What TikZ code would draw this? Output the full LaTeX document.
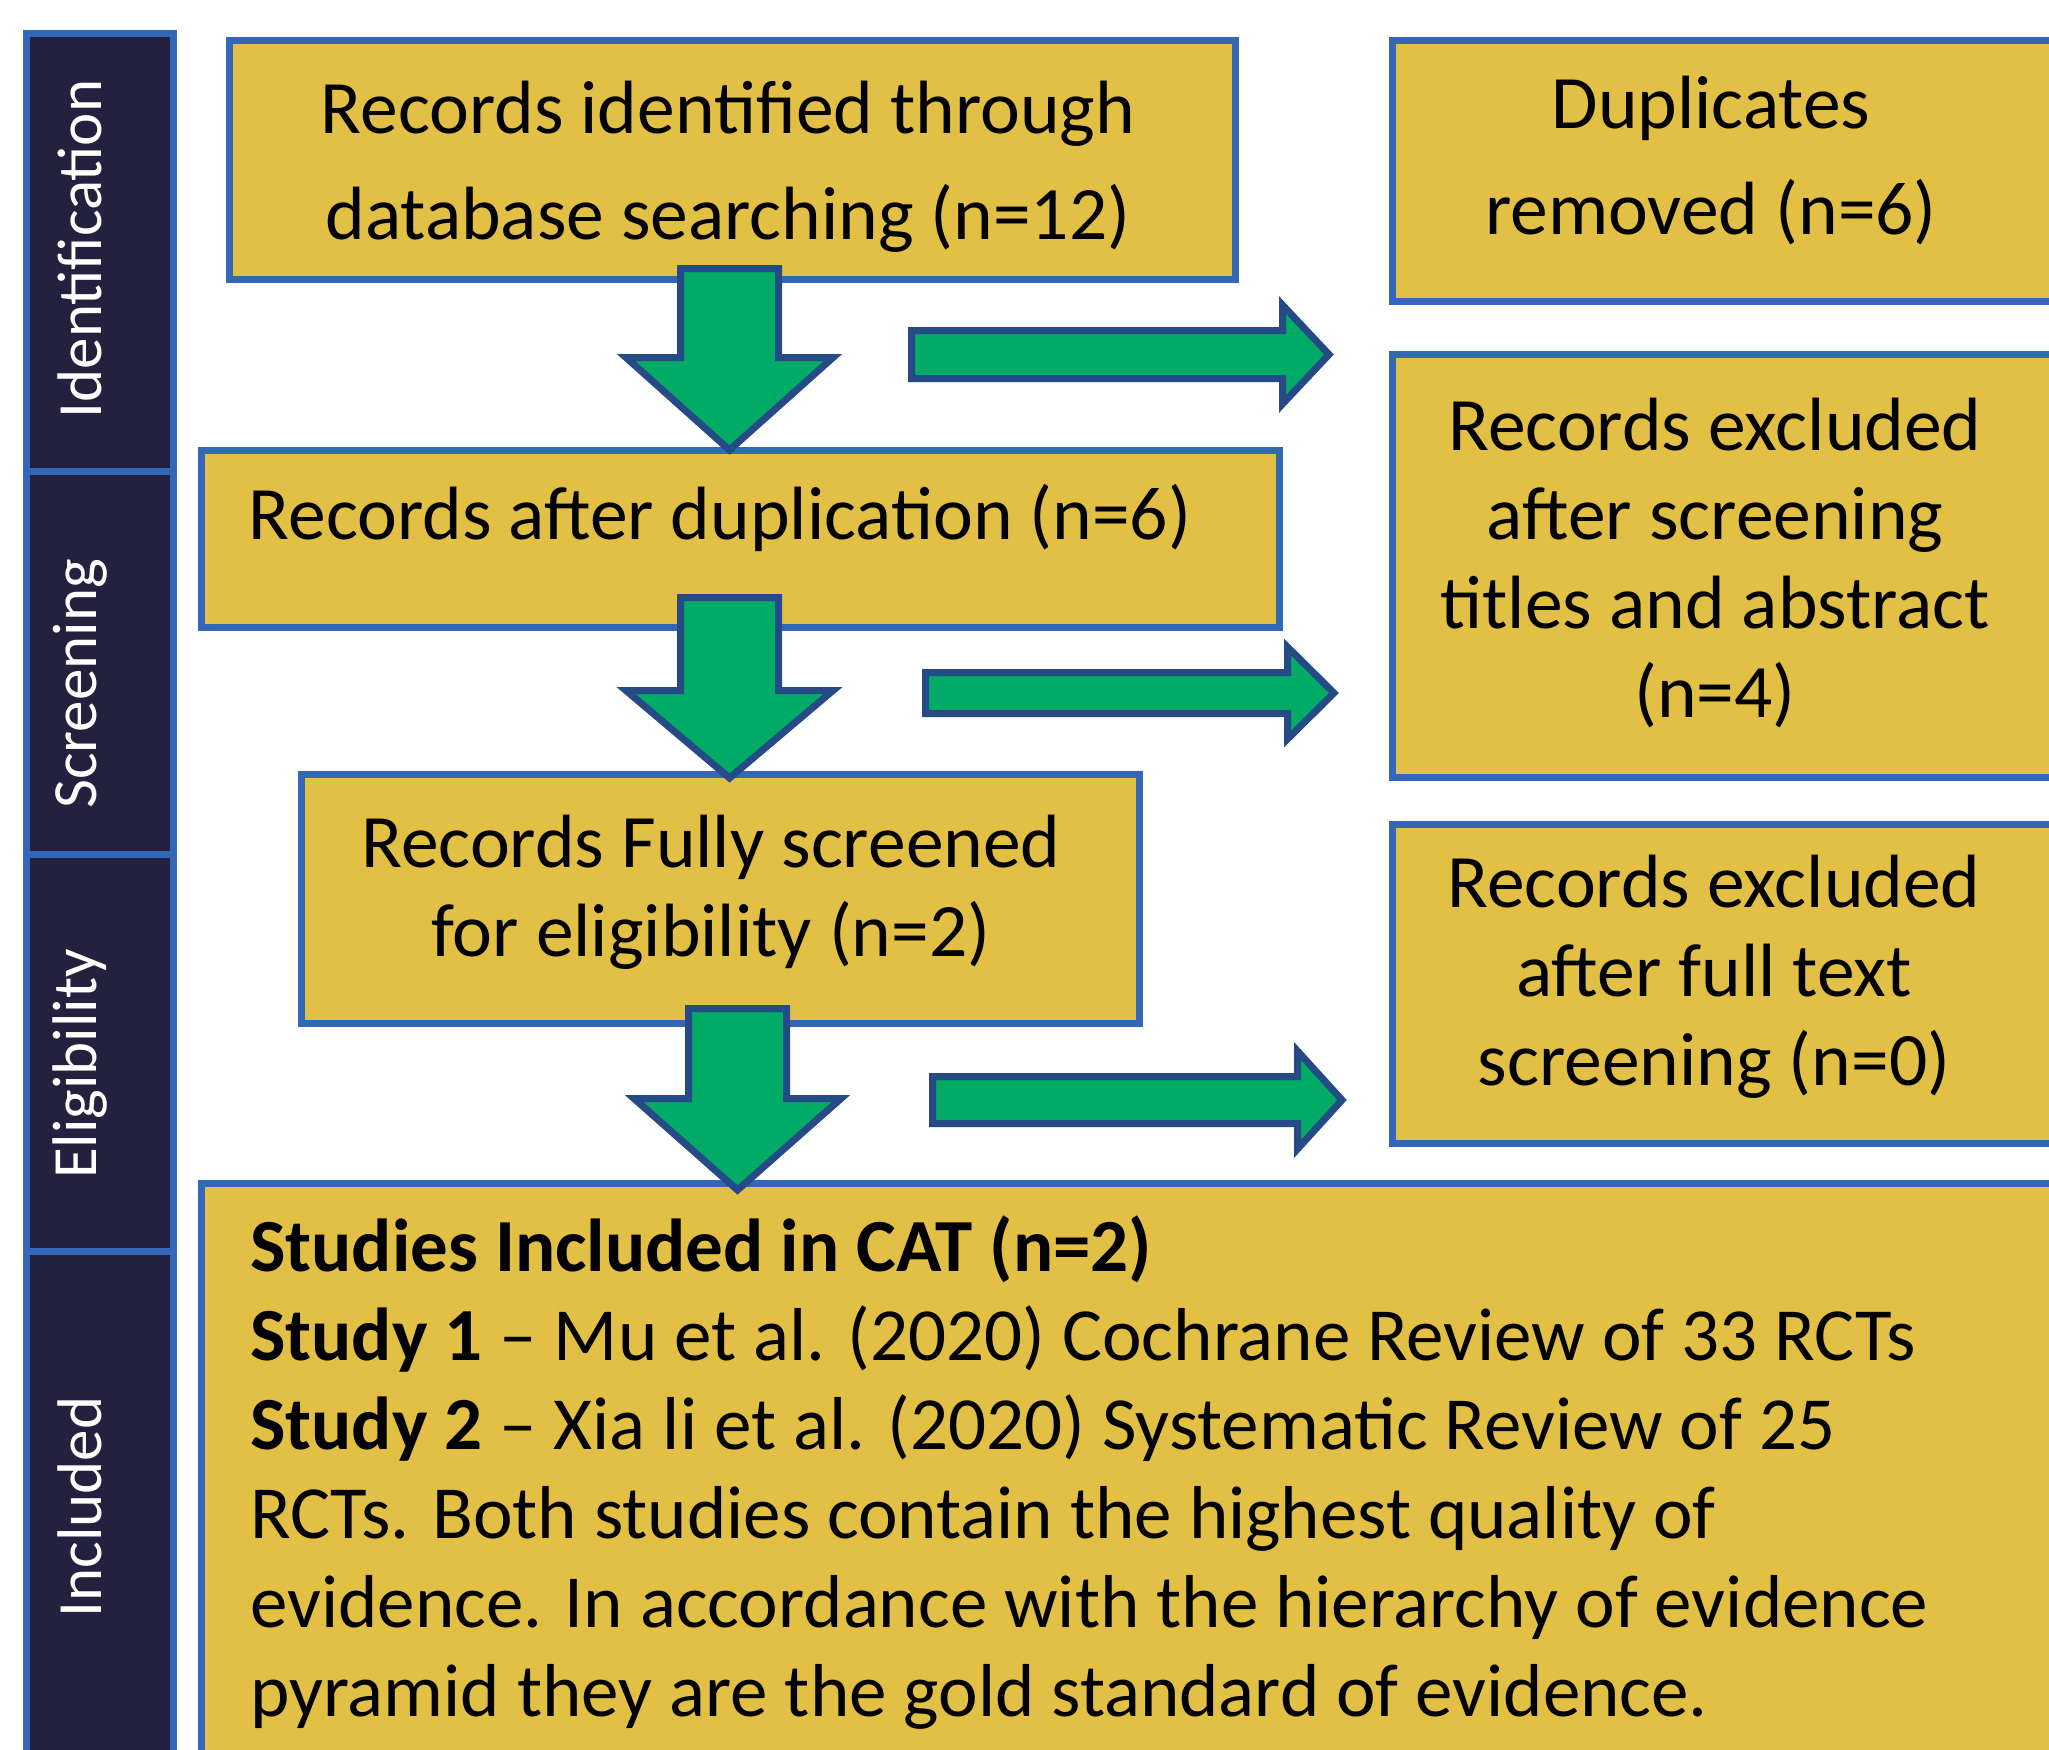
\documentclass[tikz,border=0pt]{standalone}
\usepackage{fontspec}
\setmainfont{Carlito}
\definecolor{boxfill}{HTML}{E2BF45}
\definecolor{boxline}{HTML}{3368B9}
\definecolor{sidefill}{HTML}{24213F}
\definecolor{arrfill}{HTML}{00AB67}
\definecolor{arrline}{HTML}{264A85}
\begin{document}
\begin{tikzpicture}[x=1pt,y=-1pt,
  box/.style={draw=boxline, fill=boxfill, line width=7pt, rectangle, inner sep=0pt},
  side/.style={draw=boxline, fill=sidefill, line width=7pt, rectangle, inner sep=0pt},
  sidelabel/.style={text=white, rotate=90, font=\fontsize{63}{70}\selectfont, inner sep=0pt},
  wide/.style={font=\fontsize{75.5}{106}\selectfont, align=center, inner sep=0pt, text=black},
  tight/.style={font=\fontsize{75.5}{89}\selectfont, align=center, inner sep=0pt, text=black},
  bigtext/.style={font=\fontsize{75}{89}\selectfont, align=left, inner sep=0pt, text=black},
  blockarrow/.style={draw=arrline, fill=arrfill, line width=7pt, line join=miter}]
\clip (0,0) rectangle (2049,1749);
\fill[white] (0,0) rectangle (2049,1749);
% sidebar sections
\node[side, minimum width=147pt, minimum height=438pt, anchor=north west] (sid) at (22.5,29.5) {};
\node[side, minimum width=147pt, minimum height=383pt, anchor=north west] (scr) at (22.5,467.5) {};
\node[side, minimum width=147pt, minimum height=397pt, anchor=north west] (eli) at (22.5,850.5) {};
\node[side, minimum width=147pt, minimum height=560pt, anchor=north west] (inc) at (22.5,1247.5) {};
\node[sidelabel] (lid) at (80,249) {Identification};
\node[sidelabel] (lsc) at (80,684) {Screening};
\node[sidelabel] (lel) at (80,1064) {Eligibility};
\node[sidelabel] (lin) at (80,1507) {Included};
% boxes
\node[box, minimum width=1006pt, minimum height=239pt, anchor=north west] (b1) at (225.5,36.5) {};
\node[box, minimum width=700pt, minimum height=261pt, anchor=north west] (bdup) at (1388.5,36.5) {};
\node[box, minimum width=1078pt, minimum height=177pt, anchor=north west] (b2) at (197.5,446.5) {};
\node[box, minimum width=700pt, minimum height=423pt, anchor=north west] (bex1) at (1388.5,350.5) {};
\node[box, minimum width=838pt, minimum height=249pt, anchor=north west] (b3) at (297.5,770.5) {};
\node[box, minimum width=700pt, minimum height=319pt, anchor=north west] (bex2) at (1388.5,820.5) {};
\node[box, minimum width=1900pt, minimum height=620pt, anchor=north west] (b4) at (197.5,1179.5) {};
% texts
\node[wide] (t1) at (728,167) {Records identified through\\database searching (n=12)};
\node[wide] (tdup) at (1711,161) {Duplicates\\removed (n=6)};
\node[wide] (t2) at (720,518) {Records after duplication (n=6)};
\node[tight] (tex1) at (1715,563) {Records excluded\\after screening\\titles and abstract\\(n=4)};
\node[tight] (t3) at (711,892) {Records Fully screened\\for eligibility (n=2)};
\node[tight] (tex2) at (1714,977) {Records excluded\\after full text\\screening (n=0)};
\node[bigtext, anchor=north west] (t4) at (250,1216) {\textbf{Studies Included in CAT (n=2)}\\
\textbf{Study 1} – Mu et al. (2020) Cochrane Review of 33 RCTs\\
\textbf{Study 2} – Xia li et al. (2020) Systematic Review of 25\\
RCTs. Both studies contain the highest quality of\\
evidence. In accordance with the hierarchy of evidence\\
pyramid they are the gold standard of evidence.};
% down block arrows
\draw[blockarrow] (680.5,268.5) -- (778.5,268.5) -- (778.5,357.5) -- (833,357.5) -- (729.5,450) -- (626,357.5) -- (680.5,357.5) -- cycle;
\draw[blockarrow] (680.5,597.5) -- (778.5,597.5) -- (778.5,690.5) -- (833,690.5) -- (729.5,778) -- (626,690.5) -- (680.5,690.5) -- cycle;
\draw[blockarrow] (688.5,1008.5) -- (786.5,1008.5) -- (786.5,1098.5) -- (841,1098.5) -- (737.5,1190) -- (634,1098.5) -- (688.5,1098.5) -- cycle;
% right block arrows
\draw[blockarrow] (911.5,330.5) -- (1282.5,330.5) -- (1282.5,305) -- (1329,354.5) -- (1282.5,404) -- (1282.5,378.5) -- (911.5,378.5) -- cycle;
\draw[blockarrow] (925.5,672.5) -- (1287.5,672.5) -- (1287.5,647) -- (1334,693) -- (1287.5,739) -- (1287.5,713.5) -- (925.5,713.5) -- cycle;
\draw[blockarrow] (932.5,1076.5) -- (1297.5,1076.5) -- (1297.5,1051) -- (1342,1100) -- (1297.5,1149) -- (1297.5,1123.5) -- (932.5,1123.5) -- cycle;
\end{tikzpicture}
\end{document}
